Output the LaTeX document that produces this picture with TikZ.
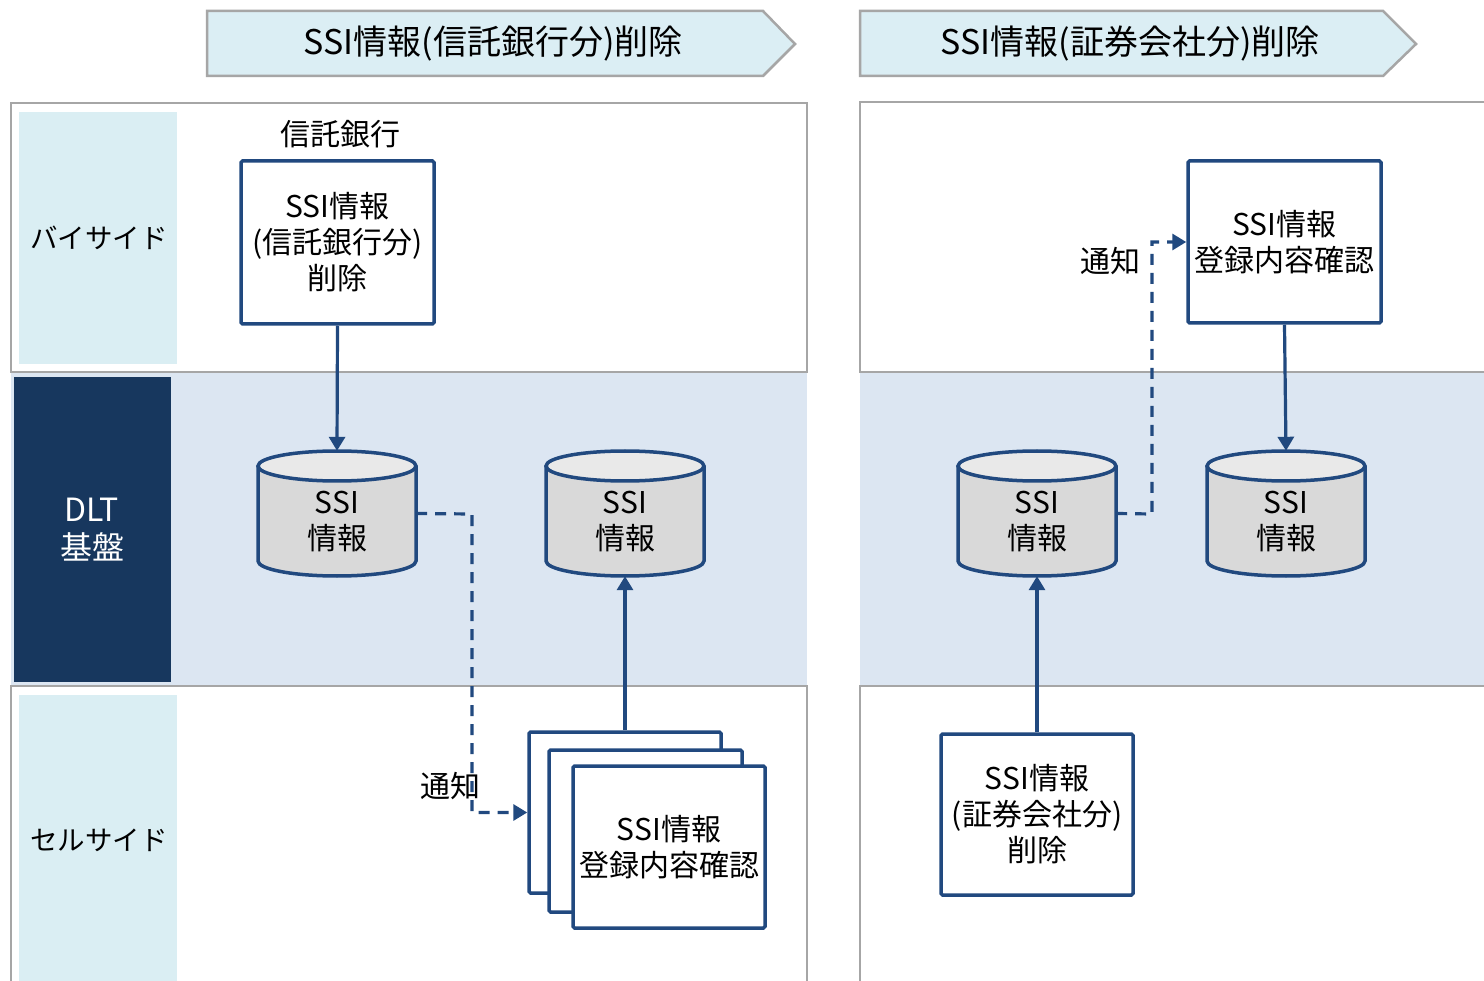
\documentclass[tikz,border=0pt]{standalone}
\usepackage{fontspec}
\setmainfont{Noto Sans CJK JP}
\usetikzlibrary{arrows.meta}
\definecolor{lineblue}{HTML}{21497F}
\definecolor{hdrfill}{HTML}{DBEEF4}
\definecolor{hdrline}{HTML}{A6A6A6}
\definecolor{dltfill}{HTML}{DCE6F2}
\definecolor{dltdark}{HTML}{17375E}
\definecolor{labfill}{HTML}{DAEEF3}
\definecolor{cylbody}{HTML}{D9D9D9}
\definecolor{cyltop}{HTML}{E9E9E9}
\newcommand\fsA{\fontsize{30}{36}\selectfont}
\newcommand\fsL{\fontsize{27.5}{36}\selectfont}
\newcommand\fsB{\fontsize{34}{38}\selectfont}
\newcommand\fsD{\fontsize{32}{38}\selectfont}
\newcommand\drawcyl[2]{%
  \fill[cylbody] ({#2-79},466) -- ({#2-79},561) arc[start angle=180,end angle=360,x radius=79pt,y radius=15pt] -- ({#2+79},466) -- cycle;
  \draw[lineblue,line width=3.5pt] ({#2-79},466) -- ({#2-79},561) arc[start angle=180,end angle=360,x radius=79pt,y radius=15pt] -- ({#2+79},466);
  \draw[lineblue,line width=3.5pt,fill=cyltop] (#2,466) ellipse[x radius=79pt,y radius=15pt];
  \node[inner sep=0,minimum width=158pt,minimum height=125pt] (#1) at (#2,513.5) {};
  \node[font=\fsA,align=center,inner sep=0] (#1t) at (#2,522) {SSI\\情報};
}
\begin{document}
\begin{tikzpicture}[x=1pt,y=-1pt,
  band/.style={draw=hdrline,line width=2.5pt},
  hdr/.style={draw=hdrline,fill=hdrfill,line width=2.5pt},
  box/.style={draw=lineblue,line width=3.5pt,fill=white,inner sep=0,align=center,font=\fsA,rounded corners=1.5pt},
  flow/.style={draw=lineblue,line width=3.2pt,-{Triangle[width=16pt,length=14pt]}},
  notify/.style={flow,dash pattern=on 11pt off 8pt},
  txt/.style={font=\fsA,inner sep=0,align=center}]
\useasboundingbox (0,0) rectangle (1484,981);
\clip (0,0) rectangle (1484,981);
\fill[white] (0,0) rectangle (1484,981);

% headers
\draw[hdr] (207,11) -- (763,11) -- (795,44) -- (763,76) -- (207,76) -- cycle;
\node[font=\fsB,inner sep=0] (h1) at (493,44) {SSI情報(信託銀行分)削除};
\draw[hdr] (860,11) -- (1383,11) -- (1416,44) -- (1383,76) -- (860,76) -- cycle;
\node[font=\fsB,inner sep=0] (h2) at (1130,44) {SSI情報(証券会社分)削除};

% left bands
\fill[dltfill] (11,372) rectangle (807,686);
\draw[band] (11,103) rectangle (807,372);
\draw[band] (11,686) rectangle (807,1000);
\fill[labfill] (19,112) rectangle (177,364);
\fill[dltdark] (14,377) rectangle (171,682);
\fill[labfill] (19,695) rectangle (177,990);
\node[txt,font=\fsL] (lb1) at (99,238) {バイサイド};
\node[txt,font=\fsD,text=white] (lb2) at (92,530) {DLT\\基盤};
\node[txt,font=\fsL] (lb3) at (99,840) {セルサイド};

% right bands
\fill[dltfill] (860,372) rectangle (1500,686);
\draw[band] (860,102) rectangle (1500,372);
\draw[band] (860,686) rectangle (1500,1000);

% left content
\node[txt] (tb) at (340,134) {信託銀行};
\node[box,minimum width=193pt,minimum height=163pt] (b1) at (337.5,242.5) {SSI情報\\(信託銀行分)\\削除};
\drawcyl{c1}{337}
\drawcyl{c2}{625}
\node[box,minimum width=192pt,minimum height=161pt] (sA) at (625,812.5) {};
\node[box,minimum width=193pt,minimum height=162pt] (sB) at (645.5,831) {};
\node[box,minimum width=192pt,minimum height=162pt] (sC) at (669,847) {SSI情報\\登録内容確認};
\draw[flow] (b1.south) -- (c1.north);
\draw[flow] (sA.north) -- (c2.south);
\coordinate (k1) at (472,514);
\draw[notify] (c1.east) -- (k1) |- (sA.west);
\node[txt] (n1) at (450,786) {通知};

% right content
\node[box,minimum width=193pt,minimum height=162pt] (r1) at (1284.5,242) {SSI情報\\登録内容確認};
\drawcyl{cr1}{1037}
\drawcyl{cr2}{1286}
\node[box,minimum width=192pt,minimum height=161pt] (r2) at (1037,814.5) {SSI情報\\(証券会社分)\\削除};
\draw[flow] (r2.north) -- (cr1.south);
\draw[flow] (r1.south) -- (cr2.north);
\coordinate (k2) at (1152,514);
\draw[notify] (cr1.east) -- (k2) |- (r1.west);
\node[txt] (n2) at (1110,261) {通知};
\end{tikzpicture}
\end{document}
